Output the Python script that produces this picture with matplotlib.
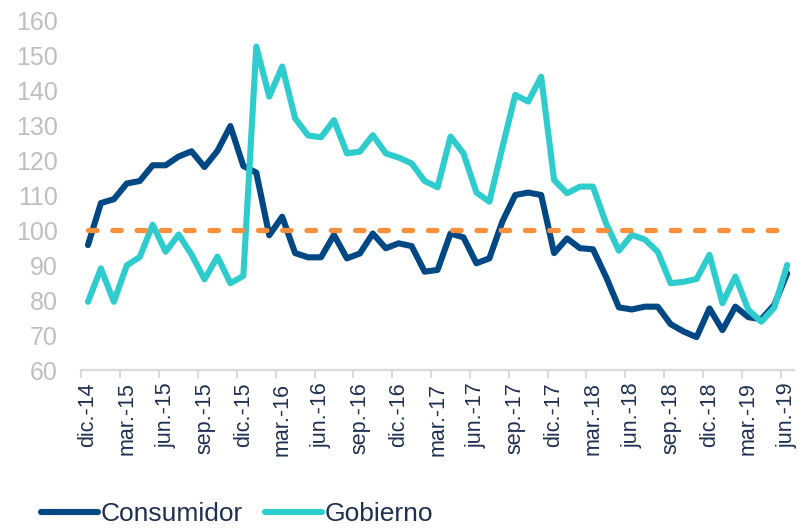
import matplotlib
matplotlib.use('Agg')
import matplotlib.pyplot as plt
import numpy as np

# monthly series, dic-14 .. jun-19
consumidor = [95.7, 107.7, 108.8, 113.3, 114.0, 118.5, 118.5, 121.0, 122.5, 118.0,
              122.6, 129.7, 118.3, 116.4, 98.5, 103.8, 93.4, 92.2, 92.2, 98.6,
              91.9, 93.3, 99.0, 94.8, 96.2, 95.4, 88.1, 88.6, 99.0, 97.9,
              90.5, 91.9, 102.4, 110.0, 110.7, 110.0, 93.4, 97.6, 94.8, 94.5,
              86.7, 77.9, 77.3, 78.1, 78.1, 73.1, 71.0, 69.4, 77.6, 71.4,
              78.1, 75.1, 74.5, 78.6, 87.6]
gobierno = [79.5, 89.0, 79.5, 89.9, 92.3, 101.5, 93.8, 98.7, 93.0, 85.9,
            92.4, 84.8, 86.9, 152.4, 138.1, 146.7, 131.9, 127.0, 126.5, 131.4,
            121.9, 122.4, 127.1, 121.9, 120.7, 119.0, 114.0, 112.2, 126.7, 121.9,
            110.7, 108.1, 123.5, 138.6, 136.7, 143.8, 114.3, 110.5, 112.4, 112.4,
            102.0, 94.1, 98.6, 97.3, 93.8, 84.8, 85.2, 86.0, 92.9, 79.1,
            86.7, 77.2, 73.8, 77.8, 90.0]
nivel_base = 100

meses = ['ene.', 'feb.', 'mar.', 'abr.', 'may.', 'jun.',
         'jul.', 'ago.', 'sep.', 'oct.', 'nov.', 'dic.']
inicio_mes, inicio_anio = 11, 14  # dic.-14

etiquetas = []
for k in range(len(consumidor)):
    m = (inicio_mes + k) % 12
    a = inicio_anio + (inicio_mes + k) // 12
    etiquetas.append(f'{meses[m]}-{a}')

azul = '#004884'
turquesa = '#2ecccc'
naranja = '#f88f3a'
gris = '#bfbfbf'
texto = '#1f3050'

plt.rcParams['font.family'] = ['Liberation Sans', 'DejaVu Sans']

fig = plt.figure(figsize=(8.02, 5.28), dpi=100)
ax = fig.add_axes([0.1016, 0.2992, 0.888, 0.6629])

x = np.arange(len(consumidor))
ax.plot(x, consumidor, color=azul, lw=4.4, solid_joinstyle='round',
        solid_capstyle='round', label='Consumidor')
ax.plot(x, gobierno, color=turquesa, lw=4.4, solid_joinstyle='round',
        solid_capstyle='round', label='Gobierno')
ax.plot(x, np.full(len(x), nivel_base), color=naranja, lw=3.8,
        dashes=(1.6, 3.0), dash_capstyle='round')

ax.set_xlim(-0.5, len(x) - 0.5)
ax.set_ylim(60, 160)
ax.set_yticks(range(60, 161, 10))
ax.tick_params(axis='y', length=0, pad=17, labelsize=18, labelcolor=gris)

ax.set_xticks(x[::3])
ax.set_xticklabels(etiquetas[::3], rotation=90, fontsize=15.5, color=texto)
ax.set_xticks(np.arange(-0.5, len(x) - 1, 3), minor=True)
ax.tick_params(axis='x', which='major', length=0, pad=9)
ax.tick_params(axis='x', which='minor', length=5.5, width=1.5, color='#d9d9d9')

for s in ['top', 'right', 'left']:
    ax.spines[s].set_visible(False)
ax.spines['bottom'].set_color('#d9d9d9')
ax.spines['bottom'].set_linewidth(1.6)

fig.legend(loc='lower left', bbox_to_anchor=(0.022, -0.042), ncol=2, frameon=False,
           fontsize=19, handlelength=2.15, handletextpad=0.1, columnspacing=0.83,
           labelcolor=texto)

plt.savefig('out.png', dpi=100)
